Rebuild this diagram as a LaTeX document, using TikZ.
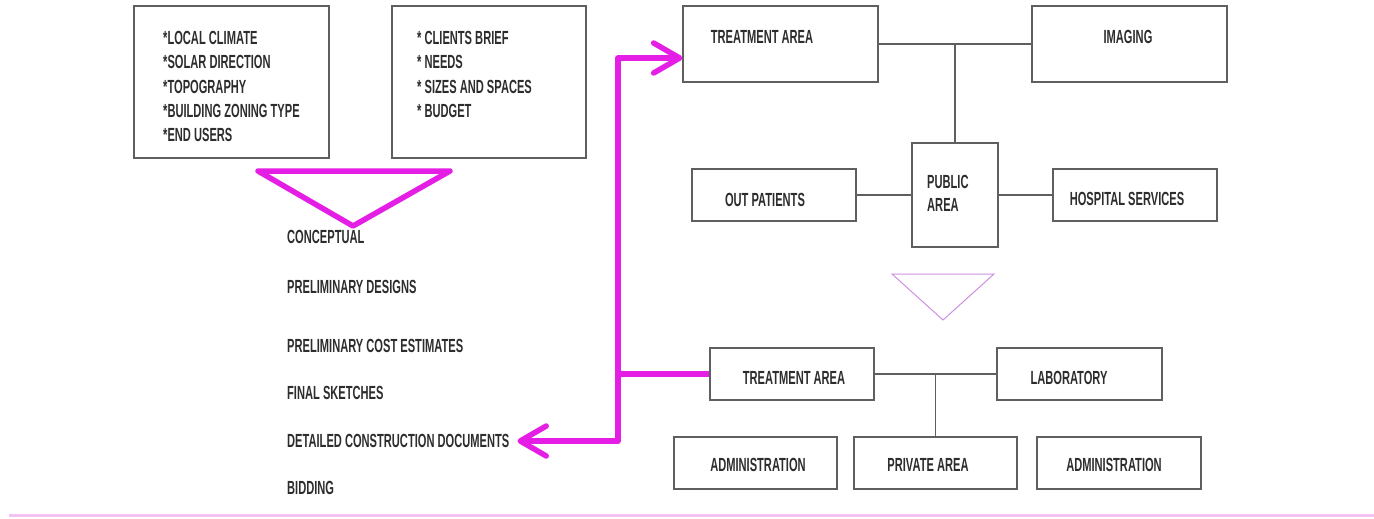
\documentclass[tikz,border=0pt]{standalone}
\usepackage{fontspec}
\newfontfamily\agency{Liberation Sans}[FakeStretch=0.585]
\usetikzlibrary{arrows.meta}
\definecolor{boxgray}{RGB}{95,95,95}
\definecolor{txtgray}{RGB}{45,45,45}
\definecolor{mag}{RGB}{228,30,228}
\definecolor{lilac}{RGB}{205,145,225}
\definecolor{pinkline}{RGB}{242,195,242}

\begin{document}
\begin{tikzpicture}
  [x=1pt,y=-1pt,
   box/.style 2 args={draw=boxgray,line width=1.2pt,minimum width=#1,minimum height=#2,inner sep=0pt},
   txt/.style={text=txtgray,font=\agency\bfseries\fontsize{19}{23}\selectfont,inner sep=0pt},
   link/.style={draw=boxgray,line width=1.2pt},
   route/.style={draw=mag,line width=5.5pt}]
  \useasboundingbox (0,0) rectangle (1374,519);

  % boxes
  \node[box={195pt}{152pt}] (site) at (231.5,82) {};
  \node[box={194pt}{152pt}] (brief) at (489,82) {};
  \node[box={195pt}{76pt}] (treatA) at (780.5,44) {};
  \node[box={195pt}{76pt}] (imaging) at (1129.5,44) {};
  \node[box={86pt}{104pt}] (public) at (955,195) {};
  \node[box={164pt}{52pt}] (outpat) at (774,195) {};
  \node[box={164pt}{52pt}] (hospital) at (1135,195) {};
  \node[box={164pt}{52pt}] (treatB) at (792,374) {};
  \node[box={165pt}{52pt}] (lab) at (1079.5,374) {};
  \node[box={163pt}{52pt}] (adminA) at (755.5,463) {};
  \node[box={163pt}{52pt}] (private) at (935.5,463) {};
  \node[box={164pt}{52pt}] (adminB) at (1119,463) {};

  % box texts
  \node[txt] (treatA-t) at (762,37) {TREATMENT AREA};
  \node[txt] (imaging-t) at (1128,37) {IMAGING};
  \node[txt] (outpat-t) at (765,200) {OUT PATIENTS};
  \node[txt] (hospital-t) at (1127,199) {HOSPITAL SERVICES};
  \node[txt,align=left,anchor=west] (public-t) at (927,193) {PUBLIC\\AREA};
  \node[txt] (treatB-t) at (794,378) {TREATMENT AREA};
  \node[txt] (lab-t) at (1069,378) {LABORATORY};
  \node[txt] (adminA-t) at (758,465) {ADMINISTRATION};
  \node[txt] (private-t) at (928,465) {PRIVATE AREA};
  \node[txt] (adminB-t) at (1114,465) {ADMINISTRATION};

  \foreach \t [count=\i] in {*LOCAL CLIMATE,*SOLAR DIRECTION,*TOPOGRAPHY,*BUILDING ZONING TYPE,*END USERS}
    \node[txt,anchor=west] (site-\i) at (163,{14+24.2*\i}) {\t};
  \foreach \t [count=\i] in {* CLIENTS BRIEF,* NEEDS,* SIZES AND SPACES,* BUDGET}
    \node[txt,anchor=west] (brief-\i) at (417,{14+24.2*\i}) {\t};

  % design stages
  \foreach \y/\t/\n in {237/CONCEPTUAL/concept,287/PRELIMINARY DESIGNS/prelim,
      346/PRELIMINARY COST ESTIMATES/cost,393/FINAL SKETCHES/final,
      441/DETAILED CONSTRUCTION DOCUMENTS/detail,488/BIDDING/bid}
    \node[txt,anchor=west] (\n) at (287,\y) {\t};

  % funnels
  \draw[mag,line width=5.5pt,line join=round] (258,171) -- (450,171) -- (353,226) -- cycle;
  \draw[lilac,line width=1pt] (892,274) -- (994,274) -- (943,320) -- cycle;

  % zoning links
  \foreach \from/\to in {treatA/imaging,outpat/public,public/hospital,treatB/lab}
    \draw[link] (\from) -- (\to);
  \draw[link] (public.north) -- (public.north |- treatA.east);
  \draw[link] (private.north) -- (private.north |- treatB.east);

  % magenta route
  \coordinate (spine) at (618,58);
  \draw[route,line join=round,<->,>={Straight Barb[length=26pt,width=30pt,round]}]
    ([xshift=8pt]detail.east) -| (spine) -- (treatA.west |- spine);
  \draw[route] (spine |- treatB) -- (treatB.west);

  \draw[pinkline,line width=3pt] (9,515) -- (1374,515);
\end{tikzpicture}
\end{document}
